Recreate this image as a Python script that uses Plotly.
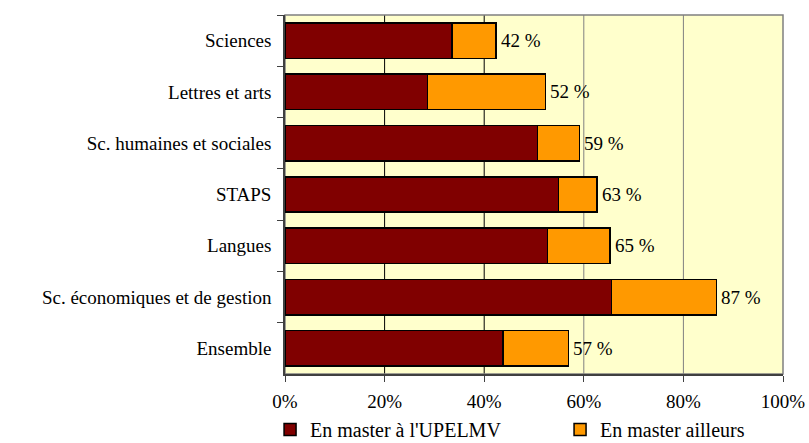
import plotly.graph_objects as go

categories = ["Sciences", "Lettres et arts", "Sc. humaines et sociales", "STAPS",
              "Langues", "Sc. économiques et de gestion", "Ensemble"]
upelmv = [33.5, 28.6, 50.7, 54.9, 52.7, 65.6, 43.8]
ailleurs = [8.9, 23.7, 8.4, 7.7, 12.6, 21.0, 13.1]
total_labels = ["42 %", "52 %", "59 %", "63 %", "65 %", "87 %", "57 %"]
x_ticks = [0, 20, 40, 60, 80, 100]

FONT = "Times New Roman, Liberation Serif, serif"

fig = go.Figure()
fig.add_trace(go.Bar(
    y=categories, x=upelmv, orientation="h", name="En master à l'UPELMV",
    marker=dict(color="#800000", line=dict(color="black", width=1.5)),
    hoverinfo="x+y",
))
fig.add_trace(go.Bar(
    y=categories, x=ailleurs, orientation="h", name="En master ailleurs",
    marker=dict(color="#FF9900", line=dict(color="black", width=1.5)),
    hoverinfo="x+y",
))

# étiquettes du total à droite des barres
for cat, a, b, lab in zip(categories, upelmv, ailleurs, total_labels):
    fig.add_annotation(x=a + b, y=cat, text=lab, showarrow=False,
                       xanchor="left", xshift=3,
                       font=dict(family=FONT, size=19, color="black"))

# quadrillage vertical
for v in x_ticks[1:-1]:
    fig.add_shape(type="line", x0=v, x1=v, y0=0, y1=1, yref="paper",
                  line=dict(color="black" if v < 60 else "#808080", width=1),
                  layer="below")

# cadre du graphique
fig.add_shape(type="rect", x0=0, x1=1, y0=0, y1=1, xref="paper", yref="paper",
              line=dict(color="#808080", width=1.5), layer="below")

fig.update_layout(
    width=809, height=443,
    margin=dict(l=285, r=26, t=15, b=69, autoexpand=False),
    barmode="stack", bargap=0.31,
    plot_bgcolor="#FFFFCC", paper_bgcolor="white",
    font=dict(family=FONT, size=19, color="black"),
    showlegend=True,
    legend=dict(orientation="h", x=-0.03, xanchor="left", y=-0.1, yanchor="top",
                bgcolor="rgba(0,0,0,0)",
                font=dict(family=FONT, size=20), traceorder="normal",
                itemwidth=30, entrywidth=245, entrywidthmode="pixels"),
)
fig.update_xaxes(
    range=[0, 100], tickvals=x_ticks, ticktext=[f"{v}%" for v in x_ticks],
    showgrid=False, zeroline=False, showline=True, linecolor="#404040", linewidth=1.5,
    ticks="outside", ticklen=6, tickcolor="#404040", ticklabelstandoff=3,
    automargin=False,
)
fig.update_yaxes(
    autorange="reversed", showgrid=False, showline=True, linecolor="#404040",
    linewidth=1.5, ticks="outside", ticklen=6, tickcolor="#404040",
    tickson="boundaries", ticklabelstandoff=8, automargin=False,
)

# pas de marge autour du body pour que la figure occupe toute la fenêtre
fig.write_html("out.html", config={"displayModeBar": False},
               post_script="document.body.style.margin='0';")
